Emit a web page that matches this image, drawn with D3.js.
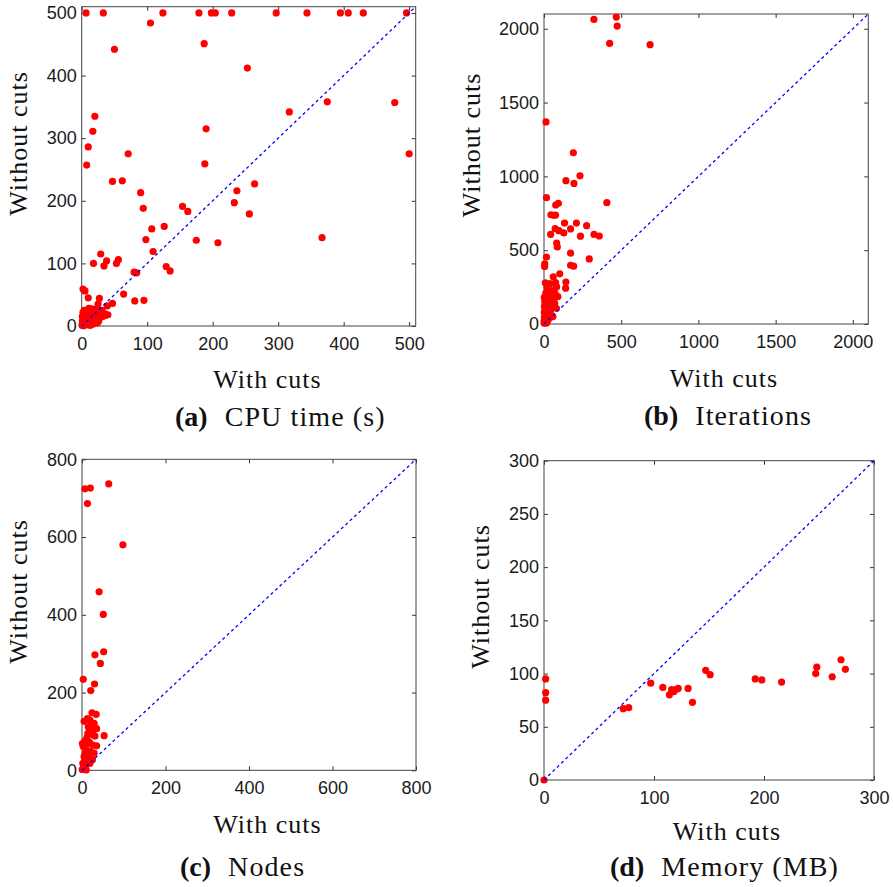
<!DOCTYPE html>
<html>
<head>
<meta charset="utf-8">
<script src="https://cdn.jsdelivr.net/npm/d3@7"></script>
<style>
  body { margin: 0; background: #fff; }
</style>
</head>
<body>
<div id="container"></div>
<script>
/* DATA: each pair is [with cuts, without cuts] */
const cpuTime = [
  [6.6,500],[33,500],[124,500],[179,500],[198,500],[204,500],[229,500],[297,500],[344,500],[395,500],[407,500],[430,500],[496,500],
  [105,484],[50,442],[187,451],[253,412],[375,358],[317,342],[478,357],[500,275],[20,335],[17,311],[10,286],[7.6,257],
  [190,315],[71,275],[188,259],[47,231],[62,232],[264,227],[237,216],[90,213],[233,197],[94,188],[154,191],[162,183],
  [256,179],[107,155],[126,159],[98,138],[175,137],[208,133],[367,141],[109,119],[29,115],[18,100],[38,104],[34,96],
  [53,100],[56,106],[129,95],[135,88],[80,86],[84,85],[95,41],[81,40],[64,51],[47,36],[2,59],[5,56],[10,45],[27,44],
  [25,35],[39,32],[37,17],
  [0.5,1],[1,3],[2,5],[1,8],[2,12],[1,15],[3,18],[2,22],[4,25],[5,3],[6,8],[7,12],[8,16],[6,20],[9,24],[10,6],[12,10],
  [11,14],[13,19],[12,23],[14,27],[15,4],[16,9],[17,13],[18,17],[16,22],[19,25],[20,6],[22,10],[21,14],[23,18],[24,22],
  [25,26],[26,8],[27,13],[28,17],[30,20],[32,15],[34,18],[36,19],[29,24],[31,25],[3,0.5],[8,2],[13,1],[18,3],[24,5],
  [11,28],[17,27],[22,27],[40,18]
];
const iterations = [
  [323,2063],[468,2079],[474,2018],[425,1901],[687,1892],[13,1369],[190,1160],[233,1004],[142,971],[194,952],[16,856],
  [407,822],[93,818],[76,806],[45,740],[62,736],[75,738],[133,684],[210,684],[276,666],[72,646],[172,644],[96,632],
  [128,617],[43,607],[324,607],[236,595],[358,596],[82,548],[86,522],[16,454],[293,441],[172,480],[172,398],[192,392],
  [5,408],[4,390],[102,340],[60,320],[142,284],[140,243],[9,278],[39,274],[75,280],[82,252],[90,186],[15,185],[58,230],
  [37,207],[47,162],[26,151],[69,140],[4,117],[43,106],[80,106],[15,72],[47,61],[26,27],[58,50],[65,140],
  [2,180],[5,150],[3,120],[8,95],[2,80],[6,60],[3,45],[10,35],[1,20],[4,10],[12,15],[20,40],[18,70],[30,90],[25,110],
  [35,130],[22,160],[12,210],[28,220],[50,200],[45,100],[35,60],[40,45],[20,15],[15,5],[55,120],[62,170],[70,210],
  [20,250],[1,5]
];
const nodes = [
  [64,737],[7,724],[20,726],[13,686],[98,580],[41,459],[51,401],[52,305],[31,297],[44,275],[3,234],[30,222],[21,205],
  [53,89],[24,148],[34,144],[13,133],[19,129],[5,126],[27,113],[35,107],[15,112],[23,104],[14,95],[31,88],[7,76],
  [18,72],[26,65],[35,63],[3,61],[11,52],[21,48],[29,44],[5,35],[15,31],[25,27],[2,18],[10,14],[19,18],[3,5],[10,1],
  [1,69],[10,65],[0.5,2],[6,22],[16,40],[8,45],[12,85],[22,120],[29,121],[21,108],[27,91]
];
const memory = [
  [0,0],[1.5,95],[1.5,82],[1.5,75],[72,67],[77,68],[97,91],[108,87],[114,80],[116,85],[118,83],[120,85],[122,86],
  [131,86],[135,73],[147,103],[151,99],[192,95],[198,94],[216,92],[247,100],[248,106],[262,97],[270,113],[274,104]
];

/* TICKS AND LABELS */
const cpuTicks = [0, 100, 200, 300, 400, 500];
const iterTicks = [0, 500, 1000, 1500, 2000];
const nodeTicks = [0, 200, 400, 600, 800];
const memXTicks = [0, 100, 200, 300];
const memYTicks = [0, 50, 100, 150, 200, 250, 300];
const xTitle = "With cuts";
const yTitle = "Without cuts";
const tags = ["(a)", "(b)", "(c)", "(d)"];
const titles = ["CPU time (s)", "Iterations", "Nodes", "Memory (MB)"];

/* LAYOUT */
const width = 893, height = 887;
const serif = "'Liberation Serif', 'DejaVu Serif', serif";
const sans = "'Liberation Sans', Arial, sans-serif";
const panels = [
  { data: cpuTime,    max: 510,  xt: cpuTicks,  yt: cpuTicks,  box: [81.7, 6.7, 415.7, 326],  xl: [267.5, 388], yl: [26.7, 143.5], cap: [175, 426] },
  { data: iterations, max: 2100, xt: iterTicks, yt: iterTicks, box: [544, 14, 868.3, 324],    xl: [724, 387],   yl: [480, 145],    cap: [644, 425] },
  { data: nodes,      max: 800,  xt: nodeTicks, yt: nodeTicks, box: [82, 459.3, 416, 770.3],  xl: [267.5, 833], yl: [26.7, 591.5], cap: [180, 876] },
  { data: memory,     max: 300,  xt: memXTicks, yt: memYTicks, box: [544, 460.7, 874, 780],   xl: [727, 840],   yl: [489, 596.5],  cap: [610, 876] }
];

const svg = d3.select("#container")
  .append("svg")
  .attr("width", width)
  .attr("height", height);

panels.forEach((p, i) => {
  const [l, t, r, b] = p.box;
  const x = d3.scaleLinear().domain([0, p.max]).range([l, r]);
  const y = d3.scaleLinear().domain([0, p.max]).range([b, t]);
  const g = svg.append("g");
  const fmt = d3.format("d");

  // axes, ticks inward on all four sides
  g.append("g").attr("transform", `translate(0,${b})`)
    .call(d3.axisBottom(x).tickValues(p.xt).tickFormat(fmt).tickSizeInner(-4).tickSizeOuter(0).tickPadding(11));
  g.append("g").attr("transform", `translate(${l},0)`)
    .call(d3.axisLeft(y).tickValues(p.yt).tickFormat(fmt).tickSizeInner(-4).tickSizeOuter(0).tickPadding(5));
  g.append("g").attr("transform", `translate(0,${t})`)
    .call(d3.axisTop(x).tickValues(p.xt).tickSizeInner(-4).tickSizeOuter(0).tickFormat(""));
  g.append("g").attr("transform", `translate(${r},0)`)
    .call(d3.axisRight(y).tickValues(p.yt).tickSizeInner(-4).tickSizeOuter(0).tickFormat(""));
  g.selectAll(".domain").remove();
  g.selectAll(".tick line").attr("stroke", "#333");
  g.selectAll(".tick text")
    .attr("font-family", sans)
    .attr("font-size", 18)
    .attr("fill", "#1a1a1a");

  g.append("rect")
    .attr("x", l).attr("y", t)
    .attr("width", r - l).attr("height", b - t)
    .attr("fill", "none").attr("stroke", "#444").attr("stroke-width", 1);

  // points
  g.selectAll("circle")
    .data(p.data)
    .join("circle")
    .attr("cx", d => x(d[0]))
    .attr("cy", d => y(d[1]))
    .attr("r", 3.6)
    .attr("fill", "#ff0000");

  // y = x reference
  g.append("line")
    .attr("x1", x(0)).attr("y1", y(0))
    .attr("x2", x(p.max)).attr("y2", y(p.max))
    .attr("stroke", "#0000ff")
    .attr("stroke-width", 1.3)
    .attr("stroke-dasharray", "3,3");

  // titles
  g.append("text")
    .attr("x", p.xl[0]).attr("y", p.xl[1])
    .attr("text-anchor", "middle")
    .attr("font-family", serif).attr("font-size", 26)
    .attr("letter-spacing", 1).attr("fill", "#111")
    .text(xTitle);
  g.append("text")
    .attr("transform", `translate(${p.yl[0]},${p.yl[1]}) rotate(-90)`)
    .attr("text-anchor", "middle")
    .attr("font-family", serif).attr("font-size", 26)
    .attr("letter-spacing", 1).attr("fill", "#111")
    .text(yTitle);

  const cap = g.append("text")
    .attr("x", p.cap[0]).attr("y", p.cap[1])
    .attr("font-family", serif).attr("font-size", 28)
    .attr("fill", "#111");
  cap.append("tspan").attr("font-weight", "bold").text(tags[i]);
  cap.append("tspan").attr("dx", 17).attr("letter-spacing", 1.1).text(titles[i]);
});
</script>
</body>
</html>
